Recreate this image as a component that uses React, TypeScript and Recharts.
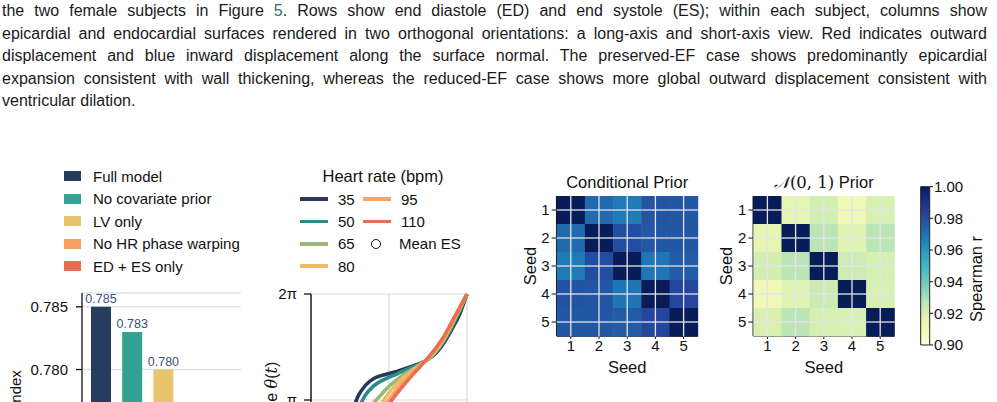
import React from "react";
import {
  BarChart,
  Bar,
  XAxis,
  YAxis,
  CartesianGrid,
  LabelList,
  LineChart,
  Line,
  ScatterChart,
  Scatter,
} from "recharts";

const FONT = "'Liberation Sans', Arial, Helvetica, sans-serif";

// caption text above the figure (last line is not justified)
const captionLines = [
  ["the two female subjects in Figure ", "5", ". Rows show end diastole (ED) and end systole (ES); within each subject, columns show"],
  ["epicardial and endocardial surfaces rendered in two orthogonal orientations: a long-axis and short-axis view. Red indicates outward"],
  ["displacement and blue inward displacement along the surface normal. The preserved-EF case shows predominantly epicardial"],
  ["expansion consistent with wall thickening, whereas the reduced-EF case shows more global outward displacement consistent with"],
  ["ventricular dilation."],
];

// ablation bars
const ablationNames = ["Full model", "No covariate prior", "LV only", "No HR phase warping", "ED + ES only"];
const ablationScores = [0.785, 0.783, 0.78, 0.775, 0.771];
const ablationColors = ["#283c5d", "#33a293", "#e8c56c", "#f4a261", "#e76f51"];
const ablationTicks = [0.77, 0.775, 0.78, 0.785];

// phase warping curves, theta in units of pi
const phaseT = [0, 0.05, 0.1, 0.15, 0.2, 0.25, 0.3, 0.35, 0.4, 0.45, 0.5, 0.55, 0.6, 0.65, 0.7, 0.75, 0.8, 0.85, 0.9, 0.95, 1];
const phase35 = [0, 0.12, 0.26, 0.42, 0.6, 0.82, 1.03, 1.14, 1.2, 1.23, 1.25, 1.27, 1.295, 1.32, 1.345, 1.385, 1.44, 1.535, 1.66, 1.8, 2];
const phase50 = [0, 0.1, 0.22, 0.36, 0.52, 0.7, 0.9, 1.05, 1.13, 1.18, 1.215, 1.245, 1.28, 1.31, 1.34, 1.385, 1.45, 1.55, 1.68, 1.83, 2];
const phase65 = [0, 0.09, 0.19, 0.3, 0.43, 0.57, 0.72, 0.86, 0.97, 1.05, 1.13, 1.19, 1.245, 1.29, 1.335, 1.385, 1.46, 1.565, 1.7, 1.85, 2];
const phase80 = [0, 0.09, 0.18, 0.28, 0.38, 0.49, 0.6, 0.72, 0.84, 0.96, 1.07, 1.15, 1.22, 1.275, 1.33, 1.39, 1.47, 1.575, 1.71, 1.855, 2];
const phase95 = [0, 0.09, 0.18, 0.27, 0.36, 0.46, 0.56, 0.67, 0.78, 0.89, 1.0, 1.1, 1.18, 1.255, 1.325, 1.395, 1.48, 1.585, 1.72, 1.86, 2];
const phase110 = [0, 0.09, 0.18, 0.27, 0.36, 0.45, 0.54, 0.63, 0.73, 0.84, 0.96, 1.06, 1.15, 1.235, 1.315, 1.4, 1.49, 1.595, 1.73, 1.865, 2];
const heartRates = [35, 50, 65, 80, 95, 110];
const hrSeries = [phase35, phase50, phase65, phase80, phase95, phase110];
const hrColors = ["#27395a", "#2b8c87", "#9bb87c", "#f0bb62", "#f4a46c", "#e8704f"];

// seed-to-seed spearman correlation
const seeds = [1, 2, 3, 4, 5];
const conditionalPrior = [
  [1.0, 0.972, 0.968, 0.978, 0.977],
  [0.972, 1.0, 0.98, 0.977, 0.977],
  [0.968, 0.98, 1.0, 0.969, 0.976],
  [0.978, 0.977, 0.969, 1.0, 0.982],
  [0.977, 0.977, 0.976, 0.982, 1.0],
];
const normalPrior = [
  [1.0, 0.915, 0.921, 0.91, 0.919],
  [0.915, 1.0, 0.927, 0.917, 0.927],
  [0.921, 0.927, 1.0, 0.923, 0.92],
  [0.91, 0.917, 0.923, 1.0, 0.919],
  [0.919, 0.927, 0.92, 0.919, 1.0],
];
const cbarTicks = [0.9, 0.92, 0.94, 0.96, 0.98, 1.0];

const YLGNBU = ["#ffffd9", "#edf8b1", "#c7e9b4", "#7fcdbb", "#41b6c4", "#1d91c0", "#225ea8", "#253494", "#081d58"];

function hex(c: string) {
  return [1, 3, 5].map((i) => parseInt(c.slice(i, i + 2), 16));
}

function ylgnbu(v: number) {
  const f = Math.min(1, Math.max(0, (v - 0.9) / 0.1)) * 8;
  const i = Math.min(7, Math.floor(f));
  const t = f - i;
  const a = hex(YLGNBU[i]);
  const b = hex(YLGNBU[i + 1]);
  const m = a.map((x, k) => Math.round(x + (b[k] - x) * t));
  return `rgb(${m[0]},${m[1]},${m[2]})`;
}

const ablationData = ablationNames.map((name, i) => ({ name, score: ablationScores[i], color: ablationColors[i] }));

const phaseData = phaseT.map((t, i) => {
  const row: Record<string, number> = { t };
  heartRates.forEach((hr, k) => {
    row["hr" + hr] = hrSeries[k][i];
  });
  return row;
});

function toCells(m: number[][]) {
  const out: { x: number; y: number; v: number }[] = [];
  m.forEach((row, r) => row.forEach((v, c) => out.push({ x: seeds[c], y: seeds[r], v })));
  return out;
}

const abs = (left: number, top: number, extra: React.CSSProperties = {}): React.CSSProperties => ({
  position: "absolute",
  left,
  top,
  whiteSpace: "nowrap",
  ...extra,
});

const tickStyle = { fontSize: 15, fill: "#111", fontFamily: FONT };

function Caption() {
  return (
    <div style={{ position: "absolute", left: 2, top: 0, width: 985, fontSize: 16, color: "#1a1a1a" }}>
      {captionLines.map((parts, i) => (
        <div
          key={i}
          style={{
            height: 22.6,
            lineHeight: "22.6px",
            textAlign: "justify",
            textAlignLast: i < captionLines.length - 1 ? "justify" : "left",
            whiteSpace: "normal",
          }}
        >
          {parts.map((p, k) => (
            <span key={k} style={k === 1 ? { color: "#2f6f6c" } : undefined}>
              {p}
            </span>
          ))}
        </div>
      ))}
    </div>
  );
}

function AblationPanel() {
  return (
    <>
      {ablationNames.map((n, i) => (
        <div key={n} style={abs(64, 170 + i * 22.6, { fontSize: 15, display: "flex", alignItems: "center", height: 12 })}>
          <span style={{ width: 17, height: 10, background: ablationColors[i], display: "inline-block", marginRight: 12 }} />
          <span>{n}</span>
        </div>
      ))}
      <div style={abs(15, 396, { transform: "translate(-50%,-50%) rotate(-90deg)", fontSize: 15 })}>C-index</div>
      <div style={abs(0, 280)}>
        <BarChart width={260} height={260} data={ablationData} margin={{ top: 13, right: 19, left: 0, bottom: 45 }}>
          <CartesianGrid vertical={false} stroke="#dbe2eb" strokeWidth={1.5} />
          <XAxis dataKey="name" hide padding={{ left: 3, right: 0 }} />
          <YAxis
            domain={[0.77, 0.7861]}
            ticks={ablationTicks}
            allowDataOverflow
            width={82}
            tickSize={6}
            tickMargin={8}
            tick={tickStyle}
            tickFormatter={(v: number) => v.toFixed(3)}
            axisLine={{ stroke: "#111", strokeWidth: 1.3 }}
            tickLine={{ stroke: "#111", strokeWidth: 1.3 }}
          />
          <Bar dataKey="score" barSize={20} isAnimationActive={false}>
            {ablationData.map((d) => (
              <Cell key={d.name} fill={d.color} />
            ))}
            <LabelList
              dataKey="score"
              position="top"
              offset={4}
              formatter={(v: number) => v.toFixed(3)}
              style={{ fontSize: 12.5, fill: "#3d5079", fontFamily: FONT }}
            />
          </Bar>
        </BarChart>
      </div>
    </>
  );
}

import { Cell } from "recharts";

function PhasePanel() {
  const col1 = [0, 1, 2, 3];
  const col2 = [4, 5];
  return (
    <>
      <div style={abs(383, 176, { transform: "translate(-50%,-50%)", fontSize: 16.5 })}>Heart rate (bpm)</div>
      {col1.map((k, r) => (
        <div key={k} style={abs(300, 199 + r * 22.4 - 8, { height: 16, display: "flex", alignItems: "center", fontSize: 15 })}>
          <span style={{ width: 28, height: 3.5, background: hrColors[k], display: "inline-block", marginRight: 10 }} />
          {heartRates[k]}
        </div>
      ))}
      {col2.map((k, r) => (
        <div key={k} style={abs(363, 199 + r * 22.4 - 8, { height: 16, display: "flex", alignItems: "center", fontSize: 15 })}>
          <span style={{ width: 28, height: 3.5, background: hrColors[k], display: "inline-block", marginRight: 10 }} />
          {heartRates[k]}
        </div>
      ))}
      <div style={abs(371, 243.8 - 8, { height: 16, display: "flex", alignItems: "center", fontSize: 15 })}>
        <span
          style={{
            width: 10,
            height: 10,
            borderRadius: "50%",
            border: "1.3px solid #111",
            display: "inline-block",
            marginRight: 18,
            boxSizing: "border-box",
          }}
        />
        Mean ES
      </div>
      <div style={abs(271, 400, { transform: "translate(-50%,-50%) rotate(-90deg)", fontSize: 16 })}>
        Phase <span style={{ fontFamily: "'DejaVu Serif', serif", fontStyle: "italic" }}>θ</span>(
        <span style={{ fontFamily: "'DejaVu Serif', serif", fontStyle: "italic" }}>t</span>)
      </div>
      <div style={abs(260, 280)}>
        <LineChart width={240} height={266} data={phaseData} margin={{ top: 14, right: 33, left: 0, bottom: 40 }}>
          <CartesianGrid stroke="#d5dde7" strokeWidth={1.2} />
          <XAxis dataKey="t" type="number" domain={[0, 1]} ticks={[0, 0.5, 1]} hide />
          <XAxis xAxisId="top" orientation="top" type="number" domain={[0, 1]} height={0} tick={false} tickLine={false} axisLine={{ stroke: "#111", strokeWidth: 1.4 }} />
          <YAxis
            domain={[0, 2]}
            ticks={[0, 1, 2]}
            width={51}
            tickSize={7}
            tickMargin={7}
            tick={tickStyle}
            tickFormatter={(v: number) => (v === 2 ? "2π" : v === 1 ? "π" : "0")}
            axisLine={{ stroke: "#111", strokeWidth: 1.4 }}
            tickLine={{ stroke: "#111", strokeWidth: 1.3 }}
          />
          <YAxis yAxisId="right" orientation="right" domain={[0, 2]} width={0} tick={false} tickLine={false} axisLine={{ stroke: "#111", strokeWidth: 1.4 }} />
          {heartRates.map((hr, k) => (
            <Line
              key={hr}
              dataKey={"hr" + hr}
              type="monotone"
              stroke={hrColors[k]}
              strokeWidth={3.6}
              dot={false}
              isAnimationActive={false}
            />
          ))}
        </LineChart>
      </div>
    </>
  );
}

const CELL_W = 28.2;
const CELL_H = 28.0;

function cellShape(props: any) {
  const { cx, cy, payload } = props;
  if (cx == null || cy == null) return <g />;
  return (
    <g>
      <rect x={cx - CELL_W / 2} y={cy - CELL_H / 2} width={CELL_W + 0.5} height={CELL_H + 0.5} fill={ylgnbu(payload.v)} />
      <line x1={cx - CELL_W / 2} x2={cx + CELL_W / 2 + 0.5} y1={cy} y2={cy} stroke="#e4e4ea" strokeWidth={1.3} />
      <line x1={cx} x2={cx} y1={cy - CELL_H / 2} y2={cy + CELL_H / 2 + 0.5} stroke="#e4e4ea" strokeWidth={1.3} />
    </g>
  );
}

function SeedHeatmap({
  left,
  plotLeft,
  matrix,
  title,
}: {
  left: number;
  plotLeft: number;
  matrix: number[][];
  title: React.ReactNode;
}) {
  const cells = toCells(matrix);
  const w = 220;
  const plotW = 141;
  const cx = left + plotLeft + plotW / 2;
  return (
    <>
      <div style={abs(cx, 182, { transform: "translate(-50%,-50%)", fontSize: 16.5 })}>{title}</div>
      <div style={abs(cx, 367, { transform: "translate(-50%,-50%)", fontSize: 16.5 })}>Seed</div>
      <div style={abs(left + plotLeft - 27, 266, { transform: "translate(-50%,-50%) rotate(-90deg)", fontSize: 16.5 })}>Seed</div>
      <div style={abs(left, 170)}>
        <ScatterChart width={w} height={200} margin={{ top: 26, right: w - plotLeft - plotW, left: 0, bottom: 0 }}>
          <XAxis
            dataKey="x"
            type="number"
            domain={[0.5, 5.5]}
            ticks={seeds}
            height={34}
            tickSize={3}
            tickMargin={1}
            tick={tickStyle}
            axisLine={{ stroke: "#111", strokeWidth: 1.5 }}
            tickLine={{ stroke: "#111" }}
          />
          <XAxis xAxisId="top" orientation="top" type="number" domain={[0.5, 5.5]} height={0} tick={false} tickLine={false} axisLine={{ stroke: "#111", strokeWidth: 1.5 }} />
          <YAxis
            dataKey="y"
            type="number"
            domain={[0.5, 5.5]}
            reversed
            ticks={seeds}
            width={plotLeft}
            tickSize={5}
            tickMargin={2}
            tick={tickStyle}
            axisLine={{ stroke: "#111", strokeWidth: 1.5 }}
            tickLine={{ stroke: "#111" }}
          />
          <YAxis yAxisId="right" orientation="right" type="number" domain={[0.5, 5.5]} width={0} tick={false} tickLine={false} axisLine={{ stroke: "#111", strokeWidth: 1.5 }} />
          <Scatter data={cells} shape={cellShape} isAnimationActive={false} />
        </ScatterChart>
      </div>
    </>
  );
}

function Colorbar() {
  const data = [{ name: "r", range: [0.9, 1.0] }];
  return (
    <>
      <div style={abs(976, 279, { transform: "translate(-50%,-50%) rotate(-90deg)", fontSize: 16.5 })}>Spearman r</div>
      <div style={abs(905, 170)}>
        <BarChart width={92} height={200} data={data} margin={{ top: 16.7, right: 0, left: 15.7, bottom: 25 }} barCategoryGap={0}>
          <defs>
            <linearGradient id="ylgnbu" x1="0" y1="1" x2="0" y2="0">
              {YLGNBU.map((c, i) => (
                <stop key={i} offset={`${(i / (YLGNBU.length - 1)) * 100}%`} stopColor={c} />
              ))}
            </linearGradient>
          </defs>
          <XAxis dataKey="name" hide />
          <YAxis
            orientation="right"
            domain={[0.9, 1.0]}
            ticks={cbarTicks}
            width={67}
            tickSize={3}
            tickMargin={1}
            tick={tickStyle}
            tickFormatter={(v: number) => v.toFixed(2)}
            axisLine={false}
            tickLine={{ stroke: "#111" }}
          />
          <Bar dataKey="range" fill="url(#ylgnbu)" stroke="#222" strokeWidth={1} isAnimationActive={false} />
        </BarChart>
      </div>
    </>
  );
}

export default function App() {
  return (
    <div
      style={{
        position: "fixed",
        left: 0,
        top: 0,
        width: 997,
        height: 402,
        overflow: "hidden",
        background: "#fff",
        fontFamily: FONT,
        color: "#111",
      }}
    >
      <Caption />
      <AblationPanel />
      <PhasePanel />
      <SeedHeatmap left={500} plotLeft={56.7} matrix={conditionalPrior} title="Conditional Prior" />
      <SeedHeatmap
        left={700}
        plotLeft={53.3}
        matrix={normalPrior}
        title={
          <span>
            <span style={{ fontFamily: "'DejaVu Serif', serif", fontStyle: "italic" }}>𝒩</span>
            <span style={{ fontFamily: "'DejaVu Serif', serif" }}>(0, 1)</span> Prior
          </span>
        }
      />
      <Colorbar />
    </div>
  );
}
